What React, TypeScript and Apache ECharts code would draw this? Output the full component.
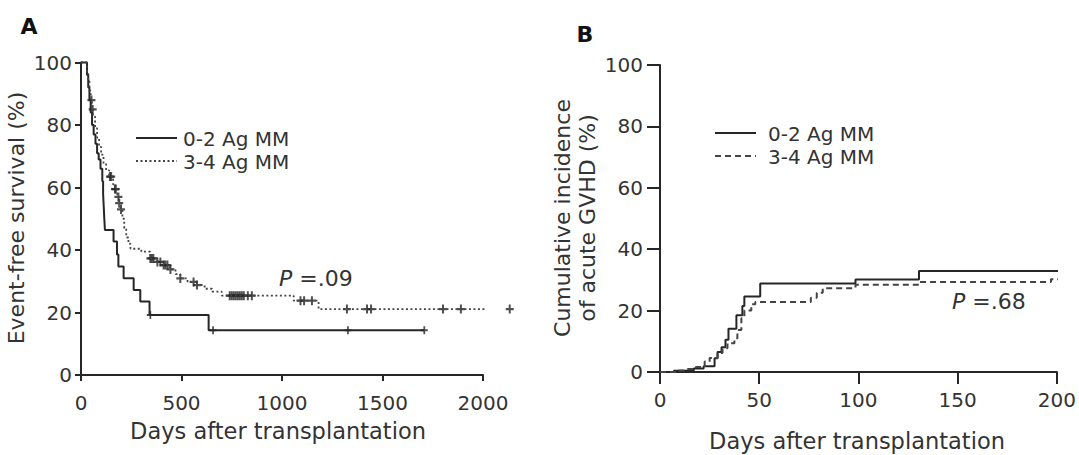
import React, { useEffect, useRef } from 'react';
import * as echarts from 'echarts';

// ---------- Data ----------
const groupNames = ['0-2 Ag MM', '3-4 Ag MM'];
const pValues = ['.09', '.68'];

// Panel A: event-free survival (%) vs days; each point = value from that day on
const efsLow: [number, number][] = [
  [0, 100], [30, 96], [36, 92], [42, 88], [48, 84], [55, 80], [63, 77], [72, 74], [80, 71],
  [88, 69], [97, 66], [106, 62], [110, 58], [113, 54], [116, 50], [119, 46.4], [162, 42.7],
  [179, 38.6], [186, 34.7], [212, 31], [262, 27.2], [295, 23.5], [341, 19.2], [635, 14.3],
  [1708, 14.3],
];
const efsHigh: [number, number][] = [
  [0, 100], [30, 97], [36, 94], [42, 91], [48, 88], [54, 85], [60, 82.7], [70, 79], [80, 76],
  [90, 73], [100, 70.5], [112, 67.5], [125, 65.5], [140, 63.5], [160, 61], [169, 59.5],
  [180, 57], [190, 55], [199, 53], [206, 50], [215, 47], [225, 44], [236, 42], [246, 40.4],
  [300, 39.5], [345, 37.3], [380, 36.2], [411, 35.2], [440, 33.8], [470, 32.3], [494, 30.9],
  [530, 29.8], [577, 28.8], [615, 27.6], [652, 26.7], [700, 25.4], [1058, 23.8], [1182, 21.1],
  [2150, 21.1],
];
const efsLowCensored = [345, 657, 1328, 1708];
const efsHighCensored = [
  52, 58, 144, 150, 169, 173, 186, 190, 199, 345, 352, 360, 380, 395, 411, 420, 430, 445,
  494, 560, 577, 740, 750, 760, 770, 780, 790, 800, 810, 830, 850, 1092, 1110, 1149, 1323,
  1423, 1443, 1801, 1890, 2133,
];

// Panel B: cumulative incidence of acute GVHD (%) vs days
const gvhdLow: [number, number][] = [
  [0, 0], [7, 0.4], [17, 1.1], [22, 1.9], [27.5, 4.5], [29, 6.5], [31, 8.1], [33, 10.5],
  [34.5, 14.1], [38.5, 18.5], [41.5, 21.5], [42.5, 24.6], [50.5, 28.8], [98.5, 30.1],
  [130.5, 32.9], [206.5, 32.9],
];
const gvhdHigh: [number, number][] = [
  [0, 0], [8, 0.5], [14, 1], [18, 1.6], [22.5, 3.4], [25, 4.6], [29, 6.2], [31.5, 7.7],
  [34, 9.4], [37.5, 11], [39, 13.7], [41, 17.5], [42.5, 20], [46, 22.1], [48, 22.8],
  [76, 24.2], [79, 25.8], [82, 27.3], [98.5, 28.4], [130.5, 29.3], [197, 30.2], [206.5, 30.2],
];

// ---------- helpers ----------
function stepAt(curve: [number, number][], day: number): number {
  let v = curve[0][1];
  for (const [d, val] of curve) {
    if (d <= day) v = val;
    else break;
  }
  return v;
}

const FONT = 'DejaVu Sans';
const INK = '#262626';
const DOT = '#444';
const TXT = '#333';
const PLUS = 'path://M3,0 L5,0 L5,3 L8,3 L8,5 L5,5 L5,8 L3,8 L3,5 L0,5 L0,3 L3,3 Z';

function axisCommon(tickLen: number, labelMargin: number) {
  return {
    axisLine: { show: true, onZero: false, lineStyle: { color: INK, width: 2 } },
    axisTick: { show: true, length: tickLen, lineStyle: { color: INK, width: 2 } },
    axisLabel: {
      fontFamily: FONT, fontSize: 20, color: TXT, margin: labelMargin,
      formatter: (v: number) => String(v),
    },
    splitLine: { show: false },
  };
}

export default function App() {
  const ref = useRef<HTMLDivElement>(null);
  useEffect(() => {
    if (!ref.current) return;
    const chart = echarts.init(ref.current, undefined, { renderer: 'svg' });
    const option: any = {
      animation: false,
      backgroundColor: '#fff',
      grid: [
        { left: 81, top: 62.5, width: 402, height: 312.5 },
        { left: 660, top: 65, width: 397, height: 307 },
      ],
      xAxis: [
        { type: 'value', gridIndex: 0, min: 0, max: 2000, interval: 500, ...axisCommon(6, 18) },
        { type: 'value', gridIndex: 1, min: 0, max: 200, interval: 50, ...axisCommon(12, 18) },
      ],
      yAxis: [
        { type: 'value', gridIndex: 0, min: 0, max: 100, interval: 20, ...axisCommon(6, 9) },
        { type: 'value', gridIndex: 1, min: 0, max: 100, interval: 20, ...axisCommon(13, 17) },
      ],
      series: [
        {
          name: groupNames[0], type: 'line', xAxisIndex: 0, yAxisIndex: 0, step: 'end',
          data: efsLow, showSymbol: false, clip: false,
          lineStyle: { color: INK, width: 2 },
        },
        {
          name: groupNames[1], type: 'line', xAxisIndex: 0, yAxisIndex: 0, step: 'end',
          data: efsHigh, showSymbol: false, clip: false,
          lineStyle: { color: DOT, width: 1.8, type: [2, 2.5] },
        },
        {
          name: groupNames[0] + ' censored', type: 'scatter', xAxisIndex: 0, yAxisIndex: 0,
          data: efsLowCensored.map((d) => [d, stepAt(efsLow, d)]), clip: false,
          symbol: PLUS, symbolSize: [7, 8], itemStyle: { color: INK },
        },
        {
          name: groupNames[1] + ' censored', type: 'scatter', xAxisIndex: 0, yAxisIndex: 0,
          data: efsHighCensored.map((d) => [d, stepAt(efsHigh, d)]), clip: false,
          symbol: PLUS, symbolSize: [8, 9], itemStyle: { color: INK },
        },
        {
          name: groupNames[0], type: 'line', xAxisIndex: 1, yAxisIndex: 1, step: 'end',
          data: gvhdLow, showSymbol: false, clip: false,
          lineStyle: { color: INK, width: 2 },
        },
        {
          name: groupNames[1], type: 'line', xAxisIndex: 1, yAxisIndex: 1, step: 'end',
          data: gvhdHigh, showSymbol: false, clip: false,
          lineStyle: { color: DOT, width: 2, type: [6, 4] },
        },
      ],
      graphic: [
        // panel letters
        { type: 'text', x: 29, y: 26, style: { text: 'A', fill: '#111', fontFamily: FONT, fontSize: 22, fontWeight: 'bold', align: 'center', verticalAlign: 'middle' } },
        { type: 'text', x: 585, y: 34, style: { text: 'B', fill: '#111', fontFamily: FONT, fontSize: 22, fontWeight: 'bold', align: 'center', verticalAlign: 'middle' } },
        // axis titles
        { type: 'text', x: 16.5, y: 218, rotation: Math.PI / 2, style: { text: 'Event-free survival (%)', fill: TXT, fontFamily: FONT, fontSize: 22, align: 'center', verticalAlign: 'middle' } },
        { type: 'text', x: 278, y: 431, style: { text: 'Days after transplantation', fill: TXT, fontFamily: FONT, fontSize: 22.5, align: 'center', verticalAlign: 'middle' } },
        { type: 'text', x: 562, y: 218, rotation: Math.PI / 2, style: { text: 'Cumulative incidence', fill: TXT, fontFamily: FONT, fontSize: 22, align: 'center', verticalAlign: 'middle' } },
        { type: 'text', x: 587, y: 218, rotation: Math.PI / 2, style: { text: 'of acute GVHD (%)', fill: TXT, fontFamily: FONT, fontSize: 22, align: 'center', verticalAlign: 'middle' } },
        { type: 'text', x: 857, y: 441, style: { text: 'Days after transplantation', fill: TXT, fontFamily: FONT, fontSize: 22.5, align: 'center', verticalAlign: 'middle' } },
        // legends
        { type: 'line', shape: { x1: 136, y1: 138, x2: 177, y2: 138 }, style: { stroke: INK, lineWidth: 2 } },
        { type: 'line', shape: { x1: 136, y1: 161, x2: 177, y2: 161 }, style: { stroke: DOT, lineWidth: 1.8, lineDash: [2, 2.5] } },
        { type: 'text', x: 183, y: 139, style: { text: groupNames[0], fill: TXT, fontFamily: FONT, fontSize: 20, align: 'left', verticalAlign: 'middle' } },
        { type: 'text', x: 183, y: 162, style: { text: groupNames[1], fill: TXT, fontFamily: FONT, fontSize: 20, align: 'left', verticalAlign: 'middle' } },
        { type: 'line', shape: { x1: 715, y1: 133, x2: 756, y2: 133 }, style: { stroke: INK, lineWidth: 2 } },
        { type: 'line', shape: { x1: 715, y1: 156, x2: 756, y2: 156 }, style: { stroke: DOT, lineWidth: 2, lineDash: [6, 4] } },
        { type: 'text', x: 768, y: 134, style: { text: groupNames[0], fill: TXT, fontFamily: FONT, fontSize: 20, align: 'left', verticalAlign: 'middle' } },
        { type: 'text', x: 768, y: 157, style: { text: groupNames[1], fill: TXT, fontFamily: FONT, fontSize: 20, align: 'left', verticalAlign: 'middle' } },
        // P values
        { type: 'text', x: 279, y: 278, style: { text: '{i|P} =' + pValues[0], fill: TXT, fontFamily: FONT, fontSize: 22, align: 'left', verticalAlign: 'middle', rich: { i: { fontStyle: 'italic', fontFamily: FONT, fontSize: 22, fill: TXT } } } },
        { type: 'text', x: 952, y: 301, style: { text: '{i|P} =' + pValues[1], fill: TXT, fontFamily: FONT, fontSize: 22, align: 'left', verticalAlign: 'middle', rich: { i: { fontStyle: 'italic', fontFamily: FONT, fontSize: 22, fill: TXT } } } },
      ],
    };
    chart.setOption(option);
    return () => chart.dispose();
  }, []);
  return (
    <div
      ref={ref}
      style={{ position: 'fixed', left: 0, top: 0, width: 1079, height: 455, background: '#fff' }}
    />
  );
}
